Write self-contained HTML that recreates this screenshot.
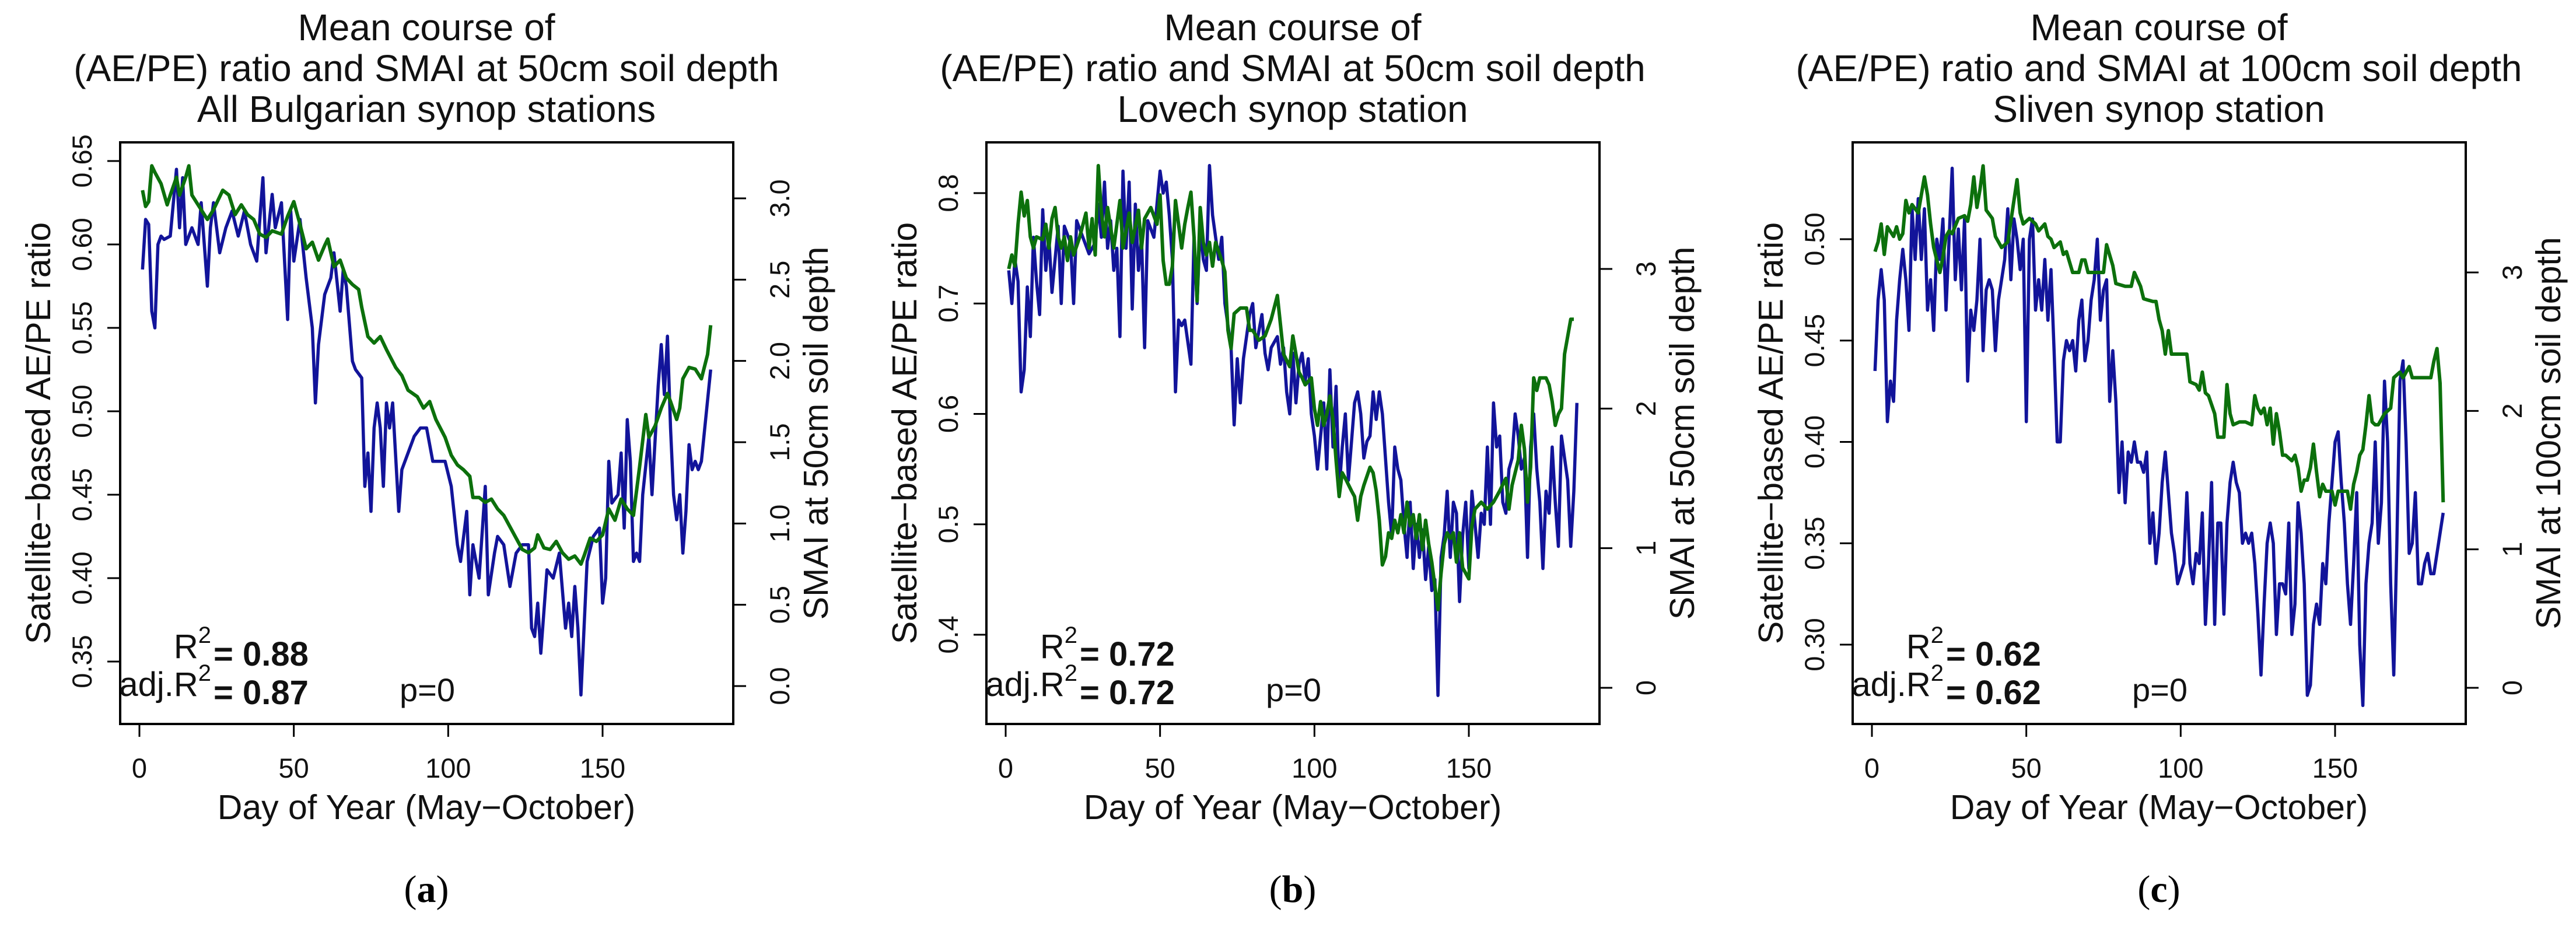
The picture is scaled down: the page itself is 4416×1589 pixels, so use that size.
<!DOCTYPE html>
<html><head><meta charset="utf-8">
<style>
html,body{margin:0;padding:0;background:#fff;}
svg{display:block;font-family:"Liberation Sans",Arial,sans-serif;}
</style></head>
<body>
<svg id="fig" width="4416" height="1589" viewBox="0 0 4416 1589" xmlns="http://www.w3.org/2000/svg"></svg>
<script>
// ---------- Panel (a) data ----------
const aBlueDays=[1,2,3,4,5,6,7,8,10,12,13,14,15,17,19,20,22,23,24,26,28,30,32,34,36,38,40,41,43,44,46,47,48,49,50,52,54,56,57,58,60,62,63,65,66,67,69,70,72,73,74,75,76,77,78,79,80,81,82,84,85,87,89,91,93,95,97,99,101,103,104,106,107,108,110,112,113,115,116,118,120,122,124,126,127,128,129,130,131,132,134,136,138,139,140,141,142,143,144,145,147,149,150,151,152,153,155,156,157,158,159,160,161,162,163,165,166,168,169,170,171,172,173,174,175,176,177,178,179,180,181,182,185];
const aBlueVals=[0.585,0.615,0.612,0.56,0.55,0.60,0.605,0.603,0.605,0.645,0.61,0.64,0.60,0.61,0.60,0.625,0.575,0.61,0.625,0.595,0.61,0.62,0.605,0.62,0.60,0.59,0.64,0.595,0.63,0.61,0.625,0.59,0.555,0.62,0.59,0.615,0.58,0.55,0.505,0.54,0.57,0.58,0.595,0.56,0.585,0.575,0.53,0.525,0.52,0.455,0.475,0.44,0.49,0.505,0.49,0.455,0.505,0.49,0.505,0.44,0.465,0.475,0.485,0.49,0.49,0.47,0.47,0.47,0.455,0.42,0.41,0.44,0.39,0.42,0.40,0.455,0.39,0.415,0.425,0.42,0.395,0.415,0.42,0.42,0.37,0.365,0.385,0.355,0.38,0.405,0.40,0.415,0.37,0.385,0.365,0.395,0.37,0.33,0.37,0.41,0.425,0.43,0.385,0.40,0.47,0.445,0.45,0.475,0.43,0.495,0.47,0.41,0.415,0.41,0.45,0.485,0.45,0.515,0.54,0.51,0.545,0.49,0.45,0.435,0.45,0.415,0.44,0.48,0.465,0.47,0.465,0.47,0.525];
const aGreenDays=[1,2,3,4,5,7,9,10,12,13,15,16,17,19,22,24,27,29,31,33,35,37,39,41,43,46,48,50,52,54,56,58,60,61,63,65,67,69,71,72,74,76,78,80,83,85,87,90,92,94,96,99,101,103,105,107,108,110,112,114,116,118,120,122,124,126,128,129,131,133,135,137,139,141,143,144,146,148,150,152,154,156,158,160,162,164,165,167,169,171,172,174,175,176,178,180,182,184,185];
const aGreenVals=[3.05,2.95,2.98,3.2,3.16,3.09,2.96,3.02,3.13,3.02,3.13,3.2,3.02,2.96,2.87,2.93,3.05,3.02,2.9,2.96,2.9,2.87,2.78,2.76,2.8,2.78,2.89,2.98,2.84,2.69,2.73,2.62,2.71,2.75,2.58,2.62,2.51,2.47,2.44,2.33,2.15,2.11,2.15,2.07,1.96,1.91,1.82,1.78,1.71,1.75,1.64,1.53,1.42,1.36,1.33,1.29,1.16,1.16,1.13,1.15,1.09,1.05,0.98,0.91,0.84,0.82,0.85,0.93,0.85,0.84,0.89,0.82,0.78,0.8,0.75,0.8,0.91,0.89,0.93,1.09,1.02,1.15,1.09,1.05,1.35,1.67,1.53,1.6,1.71,1.8,1.75,1.64,1.71,1.89,1.96,1.95,1.89,2.04,2.22];
const aLeftTicks=[0.35,0.40,0.45,0.50,0.55,0.60,0.65];
const aLeftLabels=["0.35","0.40","0.45","0.50","0.55","0.60","0.65"];
const aRightTicks=[0,0.5,1,1.5,2,2.5,3];
const aRightLabels=["0.0","0.5","1.0","1.5","2.0","2.5","3.0"];

// ---------- Panel (b) data ----------
const bBlueDays=[1,2,3,4,5,6,7,8,9,10,11,12,13,14,15,16,17,18,19,21,22,23,25,27,29,30,31,32,33,34,35,36,37,38,39,40,41,42,43,44,45,46,48,49,50,51,52,53,54,55,56,57,58,59,60,61,62,63,64,65,66,67,68,69,70,71,73,74,75,76,77,79,80,81,83,84,85,86,88,89,90,91,92,93,94,95,96,97,98,99,100,101,102,103,104,105,106,107,108,109,110,111,112,113,114,115,116,117,118,119,120,121,122,124,125,126,127,128,129,130,131,132,133,134,135,136,137,138,139,140,141,142,143,144,145,146,147,148,149,150,151,152,153,154,155,156,157,158,159,160,161,162,163,164,165,166,167,168,169,170,171,172,173,174,175,176,177,178,179,180,182,183,184,185];
const bBlueVals=[0.73,0.70,0.74,0.72,0.62,0.64,0.715,0.67,0.76,0.72,0.69,0.785,0.73,0.76,0.71,0.74,0.77,0.70,0.77,0.755,0.70,0.775,0.76,0.745,0.755,0.79,0.76,0.81,0.75,0.775,0.73,0.75,0.67,0.82,0.75,0.81,0.695,0.79,0.73,0.76,0.66,0.775,0.76,0.79,0.82,0.80,0.81,0.78,0.74,0.62,0.685,0.68,0.685,0.665,0.645,0.76,0.70,0.77,0.74,0.73,0.825,0.78,0.76,0.74,0.76,0.70,0.66,0.59,0.65,0.61,0.65,0.69,0.70,0.66,0.69,0.655,0.64,0.66,0.67,0.645,0.66,0.62,0.60,0.655,0.61,0.645,0.655,0.63,0.65,0.60,0.58,0.55,0.58,0.61,0.55,0.64,0.57,0.625,0.53,0.57,0.60,0.54,0.575,0.61,0.62,0.60,0.56,0.575,0.58,0.62,0.595,0.62,0.60,0.52,0.49,0.57,0.55,0.54,0.50,0.47,0.52,0.46,0.50,0.47,0.495,0.45,0.48,0.44,0.45,0.345,0.47,0.49,0.53,0.47,0.52,0.51,0.43,0.49,0.52,0.46,0.53,0.50,0.47,0.51,0.50,0.57,0.50,0.61,0.57,0.58,0.52,0.51,0.55,0.56,0.60,0.58,0.55,0.56,0.47,0.57,0.60,0.55,0.52,0.46,0.53,0.51,0.57,0.52,0.48,0.58,0.54,0.48,0.53,0.61];
const bGreenDays=[1,2,3,4,5,6,7,8,9,10,12,13,14,15,16,17,18,19,20,21,22,24,26,27,28,29,30,31,32,33,35,36,37,38,40,41,43,44,45,47,49,50,51,52,53,54,55,57,58,59,60,61,62,63,64,65,66,67,68,70,71,72,73,74,76,78,79,80,82,84,86,88,89,90,92,93,95,96,97,99,100,101,102,103,104,105,106,107,108,109,110,112,113,114,115,116,118,119,120,121,122,123,124,125,126,127,128,129,130,131,132,133,134,135,136,137,138,139,140,141,142,143,144,145,146,147,148,149,150,151,152,154,156,158,160,162,163,164,165,166,167,168,169,170,171,172,173,175,176,177,178,179,180,181,183,184];
const bGreenVals=[3.0,3.1,3.02,3.32,3.55,3.38,3.49,3.23,3.15,3.23,3.21,3.32,3.15,3.36,3.44,3.23,3.15,3.23,3.06,3.23,3.1,3.23,3.4,3.15,3.36,3.1,3.74,3.4,3.23,3.44,3.15,3.32,3.49,3.15,3.4,3.19,3.42,3.15,3.36,3.44,3.32,3.53,3.06,2.89,2.89,3.02,3.49,3.15,3.32,3.44,3.55,3.23,2.77,3.44,3.19,3.1,3.19,3.02,3.19,3.06,2.98,2.56,2.43,2.68,2.72,2.72,2.56,2.56,2.49,2.52,2.64,2.81,2.6,2.39,2.3,2.52,2.26,2.22,2.17,2.22,2.0,1.88,2.05,1.88,1.96,2.09,1.92,1.63,1.37,1.54,1.5,1.41,1.37,1.2,1.37,1.45,1.58,1.54,1.41,1.2,0.88,0.94,1.11,1.07,1.2,1.11,1.24,1.11,1.33,1.16,1.24,1.07,1.24,0.99,1.2,1.03,0.9,0.73,0.56,0.82,1.03,1.11,1.07,1.11,0.9,1.11,0.86,0.82,0.78,1.16,1.28,1.33,1.28,1.33,1.41,1.5,1.28,1.45,1.54,1.63,1.88,1.71,1.33,1.58,2.22,2.13,2.22,2.22,2.17,2.05,1.88,1.96,2.0,2.39,2.64,2.64];
const bLeftTicks=[0.4,0.5,0.6,0.7,0.8];
const bLeftLabels=["0.4","0.5","0.6","0.7","0.8"];
const bRightTicks=[0,1,2,3];
const bRightLabels=["0","1","2","3"];

// ---------- Panel (c) data ----------
const cBlueDays=[1,2,3,4,5,6,7,8,9,10,11,12,13,14,15,16,17,18,19,20,21,22,23,24,25,26,27,28,29,30,31,32,33,34,35,36,37,38,39,40,41,42,43,44,45,46,47,48,49,50,51,52,53,54,55,56,57,58,59,60,61,62,63,64,65,66,67,68,69,70,71,72,73,74,75,76,77,78,79,80,81,82,83,84,85,86,87,88,89,90,91,92,93,94,95,96,97,98,99,100,101,102,103,104,105,106,107,108,109,110,111,112,113,114,115,116,117,118,119,120,121,122,123,124,125,126,127,128,129,130,131,132,133,134,135,136,137,138,139,140,141,142,143,144,145,146,147,148,149,150,151,152,153,154,155,156,157,158,159,160,161,162,163,164,165,166,167,168,169,170,171,172,173,174,175,176,177,178,179,180,181,182,183,185];
const cBlueVals=[0.435,0.47,0.485,0.47,0.41,0.43,0.42,0.46,0.48,0.495,0.48,0.455,0.515,0.49,0.52,0.49,0.515,0.465,0.48,0.455,0.50,0.49,0.51,0.465,0.50,0.535,0.48,0.505,0.475,0.51,0.43,0.465,0.455,0.47,0.50,0.445,0.475,0.48,0.475,0.445,0.47,0.48,0.49,0.515,0.48,0.51,0.50,0.485,0.50,0.41,0.50,0.51,0.465,0.48,0.465,0.49,0.46,0.485,0.445,0.40,0.40,0.44,0.45,0.445,0.45,0.435,0.46,0.47,0.44,0.45,0.47,0.48,0.50,0.46,0.475,0.48,0.42,0.445,0.42,0.375,0.40,0.37,0.395,0.39,0.40,0.39,0.39,0.385,0.395,0.35,0.365,0.34,0.355,0.38,0.395,0.375,0.355,0.345,0.33,0.335,0.34,0.375,0.34,0.33,0.345,0.34,0.365,0.31,0.34,0.38,0.31,0.36,0.36,0.315,0.36,0.38,0.39,0.38,0.375,0.35,0.355,0.35,0.355,0.34,0.315,0.285,0.32,0.35,0.36,0.35,0.305,0.33,0.33,0.325,0.36,0.305,0.32,0.37,0.355,0.33,0.275,0.28,0.31,0.32,0.31,0.34,0.33,0.36,0.38,0.40,0.405,0.38,0.36,0.33,0.31,0.34,0.375,0.30,0.27,0.33,0.35,0.36,0.40,0.35,0.37,0.43,0.40,0.33,0.285,0.35,0.43,0.44,0.40,0.345,0.35,0.375,0.33,0.33,0.34,0.345,0.335,0.335,0.345,0.365];
const cGreenDays=[1,2,3,4,5,7,8,9,10,11,12,13,15,16,17,18,19,20,21,22,23,24,25,26,28,30,31,32,33,34,35,36,37,39,40,42,44,46,47,48,49,51,53,54,56,57,58,59,61,62,63,65,67,68,69,70,72,75,76,78,79,82,84,85,87,88,91,92,93,94,95,96,97,100,102,103,105,106,107,108,109,111,112,114,115,116,117,119,121,123,124,125,126,127,128,129,130,131,132,133,134,136,137,138,139,140,141,142,143,144,145,146,147,149,150,151,152,154,155,156,157,158,159,160,161,162,163,164,166,168,169,171,172,174,175,177,179,181,182,183,184,185];
const cGreenVals=[3.15,3.22,3.35,3.13,3.33,3.26,3.33,3.24,3.28,3.52,3.43,3.49,3.43,3.56,3.69,3.56,3.35,3.18,3.09,3.0,3.11,3.26,3.3,3.28,3.39,3.41,3.37,3.49,3.69,3.47,3.6,3.77,3.45,3.39,3.26,3.18,3.22,3.52,3.67,3.43,3.35,3.39,3.35,3.3,3.35,3.26,3.24,3.18,3.22,3.13,3.15,3.0,3.0,3.09,3.09,3.0,3.0,3.0,3.2,3.05,2.92,2.9,2.9,3.0,2.9,2.81,2.79,2.79,2.66,2.58,2.41,2.58,2.41,2.41,2.41,2.21,2.19,2.15,2.28,2.13,2.11,1.98,1.81,1.81,2.19,1.98,1.9,1.92,1.92,1.9,2.11,2.02,1.98,2.02,1.9,2.02,1.76,1.98,1.85,1.68,1.68,1.64,1.68,1.59,1.42,1.5,1.5,1.59,1.76,1.56,1.38,1.47,1.42,1.42,1.32,1.42,1.42,1.42,1.29,1.47,1.56,1.68,1.72,1.9,2.11,1.92,1.9,1.9,1.98,2.02,2.24,2.28,2.24,2.32,2.24,2.24,2.24,2.24,2.36,2.45,2.2,1.34];
const cLeftTicks=[0.30,0.35,0.40,0.45,0.50];
const cLeftLabels=["0.30","0.35","0.40","0.45","0.50"];
const cRightTicks=[0,1,2,3];
const cRightLabels=["0","1","2","3"];

const xTicks=[0,50,100,150];
const xLabels=["0","50","100","150"];

const NS="http://www.w3.org/2000/svg";
const svg=document.getElementById('fig');
function mk(tag,attrs,parent,text){
  const e=document.createElementNS(NS,tag);
  for(const k in attrs) e.setAttribute(k,attrs[k]);
  if(text!==undefined) e.textContent=text;
  (parent||svg).appendChild(e);
  return e;
}

const panels=[
 {key:'a',off:0,title:["Mean course of","(AE/PE) ratio and SMAI at 50cm soil depth","All Bulgarian synop stations"],
  lTop:[0.65,276],lBot:[0.35,1134],rTop:[3,340],rBot:[0,1176],
  lt:aLeftTicks,ll:aLeftLabels,rt:aRightTicks,rl:aRightLabels,
  bd:aBlueDays,bv:aBlueVals,gd:aGreenDays,gv:aGreenVals,
  rlab:"SMAI at 50cm soil depth",r:"0.88",ar:"0.87"},
 {key:'b',off:1485,title:["Mean course of","(AE/PE) ratio and SMAI at 50cm soil depth","Lovech synop station"],
  lTop:[0.8,331],lBot:[0.4,1088],rTop:[3,461],rBot:[0,1179],
  lt:bLeftTicks,ll:bLeftLabels,rt:bRightTicks,rl:bRightLabels,
  bd:bBlueDays,bv:bBlueVals,gd:bGreenDays,gv:bGreenVals,
  rlab:"SMAI at 50cm soil depth",r:"0.72",ar:"0.72"},
 {key:'c',off:2970,title:["Mean course of","(AE/PE) ratio and SMAI at 100cm soil depth","Sliven synop station"],
  lTop:[0.5,410],lBot:[0.3,1105],rTop:[3,467],rBot:[0,1179],
  lt:cLeftTicks,ll:cLeftLabels,rt:cRightTicks,rl:cRightLabels,
  bd:cBlueDays,bv:cBlueVals,gd:cGreenDays,gv:cGreenVals,
  rlab:"SMAI at 100cm soil depth",r:"0.62",ar:"0.62"}
];

panels.forEach(p=>{
  const o=p.off;
  const g=mk('g',{});
  
  
  const L=o+206,R=o+1257,T=244,B=1241,cx=o+731;
  const X=d=>o+239+(d/150)*(1033-239);
  const YL=v=>p.lBot[1]+(v-p.lBot[0])*(p.lTop[1]-p.lBot[1])/(p.lTop[0]-p.lBot[0]);
  const YR=v=>p.rBot[1]+(v-p.rBot[0])*(p.rTop[1]-p.rBot[1])/(p.rTop[0]-p.rBot[0]);
  const tg=mk('g',{},g);
  
  
  [69,139,209].forEach((y,i)=>{mk('text',{x:cx,y:y,'font-size':64,'text-anchor':'middle',fill:'#111'},tg,p.title[i]);});
  const gp=p.gd.map((d,i)=>X(d).toFixed(1)+','+YR(p.gv[i]).toFixed(1)).join(' ');
  const bp=p.bd.map((d,i)=>X(d).toFixed(1)+','+YL(p.bv[i]).toFixed(1)).join(' ');
  const bl=mk('polyline',{points:bp,fill:'none',stroke:'#12149a','stroke-width':5.5,'stroke-linejoin':'round'},g);
  
  
  const gl=mk('polyline',{points:gp,fill:'none',stroke:'#0c700c','stroke-width':6,'stroke-linejoin':'round'},g);
  
  
  const box=mk('rect',{x:L,y:T,width:R-L,height:B-T,fill:'none',stroke:'#000','stroke-width':4},g);
  
  
  const xa=mk('g',{},g);
  
  
  xTicks.forEach((t,i)=>{
    mk('line',{x1:X(t),x2:X(t),y1:B,y2:B+22,stroke:'#000','stroke-width':3},xa);
    mk('text',{x:X(t),y:1333,'font-size':47,'text-anchor':'middle',fill:'#111'},xa,xLabels[i]);
  });
  const xt=mk('text',{x:cx,y:1404,'font-size':59,'text-anchor':'middle',fill:'#111'},g,"Day of Year (May\u2212October)");
  
  
  const ya=mk('g',{},g);
  
  
  p.lt.forEach((t,i)=>{
    const y=YL(t);
    mk('line',{x1:L-22,x2:L,y1:y,y2:y,stroke:'#000','stroke-width':3},ya);
    mk('text',{x:0,y:0,'font-size':47,'text-anchor':'middle',transform:`translate(${o+157},${y}) rotate(-90)`,fill:'#111'},ya,p.ll[i]);
  });
  const yt=mk('text',{x:0,y:0,'font-size':59,'text-anchor':'middle',transform:`translate(${o+86},${(T+B)/2}) rotate(-90)`,fill:'#111'},g,"Satellite\u2212based AE/PE ratio");
  
  
  const ra=mk('g',{},g);
  
  
  p.rt.forEach((t,i)=>{
    const y=YR(t);
    mk('line',{x1:R,x2:R+22,y1:y,y2:y,stroke:'#000','stroke-width':3},ra);
    mk('text',{x:0,y:0,'font-size':47,'text-anchor':'middle',transform:`translate(${o+1353},${y}) rotate(-90)`,fill:'#111'},ra,p.rl[i]);
  });
  const rt=mk('text',{x:0,y:0,'font-size':59,'text-anchor':'middle',transform:`translate(${o+1419},${(T+B)/2}) rotate(-90)`,fill:'#111'},g,p.rlab);
  
  
  const an=mk('g',{},g);
  
  
  const r1=mk('text',{x:o+362,y:1128,'font-size':58,'text-anchor':'end',fill:'#111'},an);
  mk('tspan',{},r1,'R');
  mk('tspan',{'font-size':40,dy:-26},r1,'2');
  mk('text',{x:o+366,y:1141,'font-size':58,'font-weight':'bold',fill:'#111'},an,'= '+p.r);
  const r2=mk('text',{x:o+362,y:1193,'font-size':58,'text-anchor':'end',fill:'#111'},an);
  mk('tspan',{},r2,'adj.R');
  mk('tspan',{'font-size':40,dy:-26},r2,'2');
  mk('text',{x:o+366,y:1207,'font-size':58,'font-weight':'bold',fill:'#111'},an,'= '+p.ar);
  mk('text',{x:o+685,y:1202,'font-size':56,fill:'#111'},an,'p=0');
  const pl=mk('text',{x:cx,y:1546,'font-size':66,'text-anchor':'middle','font-family':'"Liberation Serif",serif',fill:'#000'},g);
  
  
  mk('tspan',{},pl,'(');
  mk('tspan',{'font-weight':'bold'},pl,p.key);
  mk('tspan',{},pl,')');
});
</script>
</body></html>
